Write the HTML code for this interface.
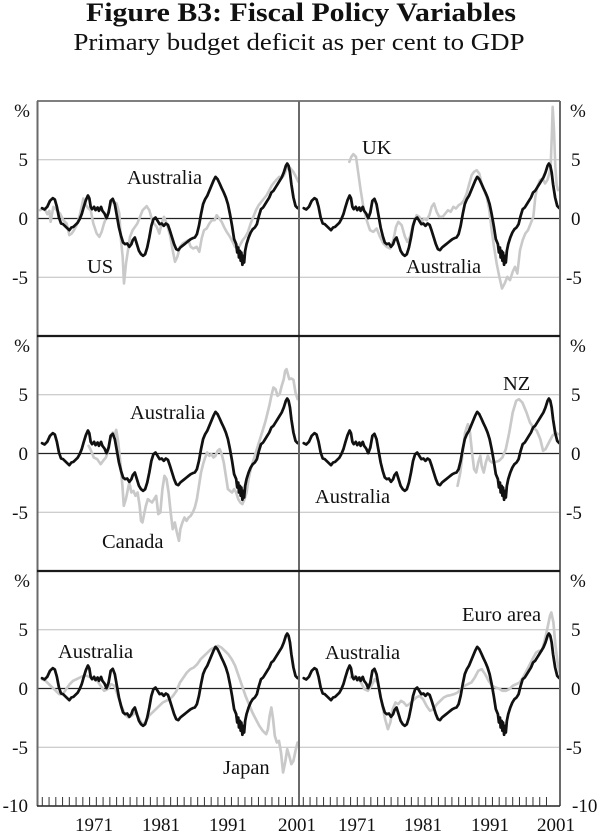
<!DOCTYPE html>
<html><head><meta charset="utf-8"><style>
html,body{margin:0;padding:0;background:#fff;}
svg{display:block;}
text{font-family:"Liberation Serif","Times New Roman",serif;fill:#111;}
.ax{font-size:19px;}
.lb{font-size:20.5px;}
</style></head><body>
<svg width="600" height="835" viewBox="0 0 600 835" xmlns="http://www.w3.org/2000/svg" font-family="Liberation Serif, Times New Roman, serif">
<defs>
<path id="aus" d="M35,322 L42,326 L50,318 L58,300 L66,292 L72,296 L78,318 L84,350 L90,368 L96,370 L102,376 L108,382 L114,388 L120,380 L126,378 L132,372 L138,366 L144,355 L150,340 L156,318 L162,298 L168,284 L172,292 L176,318 L180,325 L186,318 L190,328 L196,320 L200,330 L206,318 L210,330 L216,338 L222,352 L228,335 L234,300 L240,294 L246,310 L252,345 L258,380 L264,405 L270,425 L276,430 L282,428 L288,438 L294,430 L298,418 L304,410 L310,430 L316,450 L322,460 L328,465 L334,460 L340,440 L346,410 L352,375 L358,355 L364,350 L370,360 L376,370 L382,368 L388,375 L394,368 L400,372 L406,390 L412,410 L418,430 L424,445 L430,448 L436,440 L442,435 L448,430 L454,425 L460,420 L466,415 L472,412 L478,410 L484,400 L490,375 L496,340 L502,310 L508,295 L514,285 L520,270 L526,255 L532,240 L538,228 L544,235 L550,248 L556,262 L562,275 L568,290 L574,310 L580,340 L586,375 L592,415 L598,430 L601,455 L604,440 L606,470 L609,450 L611,480 L613,455 L616,492 L619,465 L621,485 L624,450 L628,430 L634,410 L640,395 L646,385 L652,380 L658,370 L664,345 L670,325 L676,320 L682,310 L688,300 L694,290 L700,275 L706,270 L712,260 L718,250 L724,240 L730,230 L736,215 L742,195 L746,188 L750,195 L754,215 L758,250 L764,290 L770,315 L776,322"/>
</defs>

<!-- Title -->
<text x="301" y="21" text-anchor="middle" font-size="26" font-weight="bold" textLength="430" lengthAdjust="spacingAndGlyphs">Figure B3: Fiscal Policy Variables</text>
<text x="299" y="50" text-anchor="middle" font-size="24" textLength="451" lengthAdjust="spacingAndGlyphs">Primary budget deficit as per cent to GDP</text>

<!-- grid lines -->
<g stroke="#bdbdbd" stroke-width="1" fill="none">
<path d="M37,159.8H560 M37,277.2H560 M37,394.8H560 M37,512.2H560 M37,629.8H560 M37,747.2H560"/>
</g>
<!-- zero lines -->
<g stroke="#222" stroke-width="1.2" fill="none">
<path d="M37,218.5H560 M37,453.5H560 M37,688.5H560"/>
</g>

<g fill="none" stroke-linejoin="round" stroke-linecap="round">
<!-- US -->
<path transform="translate(0,218.5) scale(0.33333) translate(0,-385)" stroke="#c9c9c9" stroke-width="7.8"
d="M120,360 L128,355 L135,358 L142,372 L148,362 L152,395 L160,350 L170,360 L180,370 L190,390 L200,400 L208,435 L215,430 L222,420 L230,405 L238,380 L245,350 L250,325 L258,345 L265,355 L272,360 L280,400 L290,430 L298,440 L305,425 L312,400 L320,380 L328,355 L335,335 L342,335 L350,340 L358,370 L362,440 L368,500 L372,580 L378,520 L384,480 L390,440 L398,420 L405,410 L412,400 L420,380 L428,360 L440,348 L448,360 L455,385 L462,400 L470,410 L478,430 L485,400 L492,380 L500,400 L510,435 L518,480 L525,515 L532,500 L540,470 L548,460 L556,455 L565,450 L572,470 L580,475 L590,470 L598,485 L605,445 L612,420 L620,415 L628,400 L636,390 L644,390 L650,375 L658,385 L665,395 L672,410 L680,425 L690,440 L698,455 L705,470 L712,475 L720,465 L728,450 L736,440 L744,425 L752,400 L760,380 L768,360 L776,345 L784,335 L792,325 L800,315 L808,300 L816,285 L824,275 L830,268 L838,260 L846,262 L852,255 L858,240 L865,228 L872,235 L880,245 L888,260 L895,275"/>
<!-- UK -->
<path transform="translate(300,218.5) scale(0.33333) translate(0,-385)" stroke="#c9c9c9" stroke-width="7.8"
d="M148,215 L154,200 L160,192 L168,200 L175,250 L182,300 L190,350 L200,390 L210,420 L220,425 L230,415 L240,440 L250,460 L260,470 L270,475 L280,450 L288,410 L295,395 L305,405 L315,440 L322,455 L330,440 L340,400 L350,375 L358,380 L365,395 L372,385 L380,390 L388,375 L395,350 L402,340 L410,365 L418,380 L428,380 L436,370 L444,360 L452,365 L460,350 L468,355 L476,345 L484,340 L492,330 L500,310 L508,280 L515,255 L522,245 L530,240 L538,250 L545,280 L552,300 L560,320 L568,360 L575,420 L582,470 L590,520 L598,560 L606,595 L614,580 L622,560 L630,570 L638,545 L645,530 L652,550 L660,480 L668,450 L676,430 L684,420 L692,400 L700,380 L706,320 L712,290 L720,270 L728,265 L735,280 L742,270 L748,250 L752,230 L756,120 L758,50 L762,120 L766,230 L770,285 L774,300"/>
<use href="#aus" transform="translate(30,218.5) scale(0.3448,0.33333) translate(0,-353)" stroke="#111" stroke-width="8"/>
<use href="#aus" transform="translate(291.7,218.5) scale(0.3448,0.33333) translate(0,-353)" stroke="#111" stroke-width="8"/>

<!-- panel 2 -->
<path transform="translate(30,453.5) scale(0.3448,0.33333) translate(0,-353)" stroke="#c9c9c9" stroke-width="7.8"
d="M170,330 L175,340 L185,365 L195,370 L205,385 L212,375 L220,365 L228,340 L234,300 L240,290 L245,300 L250,282 L256,320 L262,380 L268,450 L272,510 L278,490 L282,470 L288,440 L294,470 L300,465 L306,480 L312,470 L318,510 L322,555 L326,560 L330,540 L336,510 L342,490 L348,495 L354,500 L360,490 L366,480 L372,535 L378,530 L384,460 L390,420 L396,430 L402,470 L408,530 L414,580 L420,560 L426,590 L432,615 L436,580 L442,560 L448,545 L454,555 L460,545 L466,540 L472,530 L478,515 L484,490 L490,450 L496,410 L502,385 L508,365 L514,350 L520,360 L526,355 L532,365 L538,360 L544,345 L550,340 L556,355 L562,380 L568,420 L574,460 L580,465 L586,470 L592,460 L598,470 L604,490 L610,500 L616,505 L622,490 L628,470 L634,430 L640,400 L646,380 L652,360 L658,340 L664,320 L670,300 L676,280 L682,260 L688,235 L694,210 L700,180 L706,155 L712,160 L718,180 L724,175 L730,150 L736,130 L740,105 L744,100 L748,115 L752,130 L758,128 L764,132 L770,170 L776,190"/>
<path transform="translate(30,453.5) scale(0.3448,0.33333) translate(0,-353)" stroke="#c9c9c9" stroke-width="7.8"
d="M1240,450 L1248,410 L1255,350 L1262,290 L1270,265 L1276,290 L1282,350 L1288,400 L1294,410 L1300,380 L1306,360 L1310,390 L1316,410 L1322,380 L1328,360 L1334,375 L1340,380 L1350,378 L1360,375 L1370,365 L1380,340 L1390,290 L1400,230 L1410,195 L1418,190 L1428,200 L1440,230 L1450,260 L1460,275 L1470,285 L1480,310 L1488,345 L1495,340 L1505,320 L1515,300 L1525,290 L1532,295"/>
<use href="#aus" transform="translate(30,453.5) scale(0.3448,0.33333) translate(0,-353)" stroke="#111" stroke-width="8"/>
<use href="#aus" transform="translate(291.7,453.5) scale(0.3448,0.33333) translate(0,-353)" stroke="#111" stroke-width="8"/>

<!-- panel 3 -->
<path transform="translate(30,688.5) scale(0.3448,0.33333) translate(0,-1058)" stroke="#c9c9c9" stroke-width="7.8"
d="M35,1030 L45,1035 L55,1045 L65,1055 L75,1065 L85,1075 L95,1075 L105,1060 L115,1045 L125,1035 L135,1030 L145,1025 L155,1020 L165,1020 L175,1025 L185,1030 L195,1035 L205,1050 L215,1065 L225,1060 L235,1045 L245,1050 L255,1080 L265,1110 L275,1135 L285,1145 L295,1140 L305,1130 L315,1145 L325,1165 L335,1160 L345,1140 L355,1130 L365,1120 L375,1110 L385,1100 L395,1095 L405,1090 L415,1080 L425,1065 L435,1040 L445,1025 L455,1010 L465,1000 L475,995 L485,985 L495,970 L505,960 L515,950 L525,940 L535,935 L545,930 L555,935 L565,945 L575,955 L585,970 L595,990 L605,1020 L615,1050 L625,1080 L635,1105 L645,1130 L655,1150 L665,1170 L675,1185 L685,1195 L690,1180 L695,1140 L700,1115 L705,1150 L710,1200 L716,1220 L722,1215 L728,1250 L734,1310 L740,1280 L746,1240 L752,1260 L758,1285 L764,1275 L770,1245 L776,1220"/>
<path transform="translate(30,688.5) scale(0.3448,0.33333) translate(0,-1058)" stroke="#c9c9c9" stroke-width="7.8"
d="M930,1025 L940,1020 L950,1025 L960,1040 L970,1060 L980,1065 L990,1050 L1000,1030 L1008,1040 L1015,1070 L1022,1110 L1030,1150 L1038,1180 L1045,1160 L1052,1120 L1060,1100 L1068,1105 L1076,1095 L1084,1100 L1092,1110 L1100,1105 L1110,1095 L1120,1085 L1130,1080 L1140,1090 L1150,1110 L1160,1125 L1170,1120 L1180,1105 L1190,1095 L1200,1085 L1210,1080 L1220,1078 L1230,1075 L1240,1070 L1250,1060 L1260,1050 L1270,1045 L1280,1040 L1290,1025 L1300,1005 L1310,1000 L1320,1015 L1330,1035 L1340,1050 L1350,1055 L1360,1058 L1370,1065 L1380,1065 L1390,1060 L1400,1050 L1410,1045 L1420,1040 L1430,1025 L1440,1005 L1450,985 L1460,965 L1468,950 L1476,945 L1484,945 L1490,925 L1496,900 L1502,870 L1508,840 L1512,830 L1518,860 L1524,930 L1530,980 L1536,1010"/>
<use href="#aus" transform="translate(30,688.5) scale(0.3448,0.33333) translate(0,-353)" stroke="#111" stroke-width="8"/>
<use href="#aus" transform="translate(291.7,688.5) scale(0.3448,0.33333) translate(0,-353)" stroke="#111" stroke-width="8"/>
</g>

<!-- frame -->
<g fill="none">
<path d="M37,101H560" stroke="#555" stroke-width="1.5"/>
<path d="M37.5,101V806 M299,101V806 M560,101V806" stroke="#6a6a6a" stroke-width="2"/>
<path d="M37,336H560 M37,571H560" stroke="#1a1a1a" stroke-width="2.2"/>
<path d="M37,806H560" stroke="#222" stroke-width="1.5"/>
<path stroke="#333" stroke-width="1" d="M42.3,797v9m6.755,-9v9m6.755,-9v9m6.755,-9v9m6.755,-9v9m6.755,-9v9m6.755,-9v9m6.755,-9v9m6.755,-9v9m6.755,-9v9m6.755,-9v9m6.755,-9v9m6.755,-9v9m6.755,-9v9m6.755,-9v9m6.755,-9v9m6.755,-9v9m6.755,-9v9m6.755,-9v9m6.755,-9v9m6.755,-9v9m6.755,-9v9m6.755,-9v9m6.755,-9v9m6.755,-9v9m6.755,-9v9m6.755,-9v9m6.755,-9v9m6.755,-9v9m6.755,-9v9m6.755,-9v9m6.755,-9v9m6.755,-9v9m6.755,-9v9m6.755,-9v9m6.755,-9v9m6.755,-9v9m6.755,-9v9
M303.3,797v9m6.755,-9v9m6.755,-9v9m6.755,-9v9m6.755,-9v9m6.755,-9v9m6.755,-9v9m6.755,-9v9m6.755,-9v9m6.755,-9v9m6.755,-9v9m6.755,-9v9m6.755,-9v9m6.755,-9v9m6.755,-9v9m6.755,-9v9m6.755,-9v9m6.755,-9v9m6.755,-9v9m6.755,-9v9m6.755,-9v9m6.755,-9v9m6.755,-9v9m6.755,-9v9m6.755,-9v9m6.755,-9v9m6.755,-9v9m6.755,-9v9m6.755,-9v9m6.755,-9v9m6.755,-9v9m6.755,-9v9m6.755,-9v9m6.755,-9v9m6.755,-9v9m6.755,-9v9m6.755,-9v9"/>
</g>

<!-- left axis labels -->
<g class="ax" text-anchor="end">
<text x="30" y="117">%</text>
<text x="28" y="166">5</text>
<text x="28" y="225">0</text>
<text x="28" y="284">-5</text>
<text x="30" y="352">%</text>
<text x="28" y="401">5</text>
<text x="28" y="460">0</text>
<text x="28" y="519">-5</text>
<text x="30" y="587">%</text>
<text x="28" y="636">5</text>
<text x="28" y="695">0</text>
<text x="28" y="754">-5</text>
<text x="28" y="812">-10</text>
</g>
<!-- right axis labels -->
<g class="ax">
<text x="570" y="117">%</text>
<text x="571" y="166">5</text>
<text x="571" y="225">0</text>
<text x="566" y="284">-5</text>
<text x="570" y="352">%</text>
<text x="571" y="401">5</text>
<text x="571" y="460">0</text>
<text x="566" y="519">-5</text>
<text x="570" y="587">%</text>
<text x="571" y="636">5</text>
<text x="571" y="695">0</text>
<text x="566" y="754">-5</text>
<text x="572" y="812">-10</text>
</g>
<!-- year labels -->
<g class="ax" text-anchor="middle">
<text x="94" y="831">1971</text>
<text x="161" y="831">1981</text>
<text x="228" y="831">1991</text>
<text x="297" y="831">2001</text>
<text x="357" y="831">1971</text>
<text x="423" y="831">1981</text>
<text x="490" y="831">1991</text>
<text x="556" y="831">2001</text>
</g>

<!-- series labels -->
<g class="lb">
<text x="127" y="184">Australia</text>
<text x="87" y="273">US</text>
<text x="362" y="154">UK</text>
<text x="406" y="273">Australia</text>
<text x="130" y="419">Australia</text>
<text x="102" y="548">Canada</text>
<text x="503" y="390">NZ</text>
<text x="315" y="503">Australia</text>
<text x="58" y="658">Australia</text>
<text x="223" y="774">Japan</text>
<text x="325" y="659">Australia</text>
<text x="462" y="621">Euro area</text>
</g>
</svg>
</body></html>
